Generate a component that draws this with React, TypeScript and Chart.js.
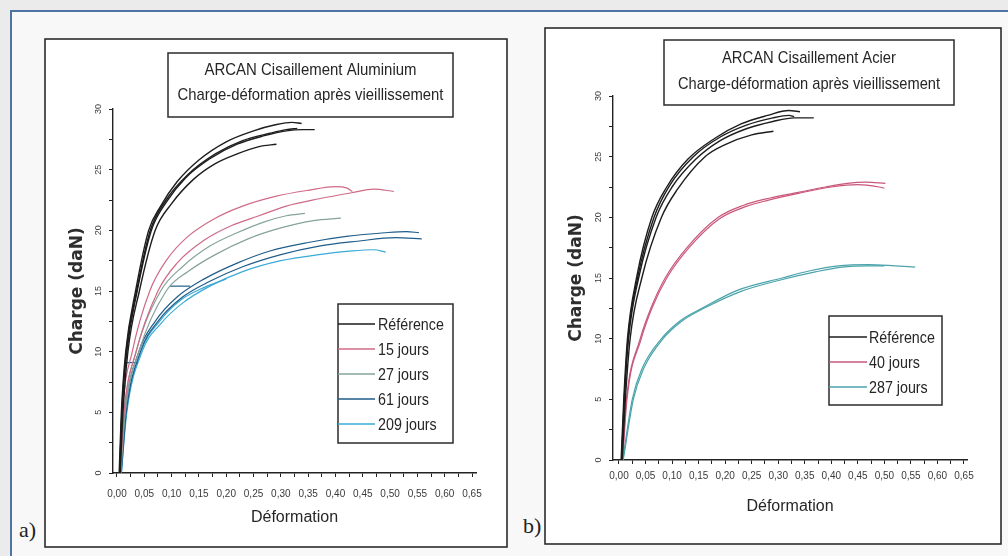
import React, { useEffect, useRef } from 'react';
import { Chart, registerables } from 'chart.js';

Chart.register(...registerables);

type Pt = [number, number];

// ---------- Panel a : ARCAN Cisaillement Aluminium ----------
const A_REF_1: Pt[] = [[0.004, 0], [0.008, 5], [0.016, 10], [0.034, 15], [0.058, 20], [0.08, 22], [0.11, 24], [0.15, 25.8], [0.2, 27.3], [0.25, 28.2], [0.29, 28.7], [0.32, 28.9], [0.338, 28.8]];
const A_REF_2: Pt[] = [[0.005, 0], [0.009, 5], [0.018, 10], [0.037, 15], [0.063, 20], [0.09, 22.3], [0.125, 24.3], [0.17, 25.9], [0.22, 27.1], [0.27, 27.8], [0.31, 28.2], [0.34, 28.3], [0.362, 28.3]];
const A_REF_3: Pt[] = [[0.006, 0], [0.011, 5], [0.02, 10], [0.041, 15], [0.07, 20], [0.1, 22.2], [0.14, 24.2], [0.18, 25.5], [0.22, 26.3], [0.26, 26.9], [0.292, 27.1]];
const A_REF_4: Pt[] = [[0.005, 0], [0.009, 5], [0.017, 10], [0.036, 15], [0.061, 20], [0.09, 22.5], [0.13, 24.6], [0.18, 26.3], [0.23, 27.4], [0.28, 28], [0.31, 28.3], [0.33, 28.4]];

const A_15_1: Pt[] = [[0.005, 0], [0.01, 5], [0.028, 10], [0.06, 15], [0.09, 17.5], [0.13, 19.5], [0.18, 21], [0.23, 22], [0.29, 22.8], [0.35, 23.3], [0.4, 23.6], [0.42, 23.5], [0.431, 23.2]];
const A_15_2: Pt[] = [[0.006, 0], [0.013, 5], [0.035, 10], [0.075, 15], [0.11, 17.3], [0.16, 19.2], [0.21, 20.4], [0.26, 21.2], [0.31, 22], [0.37, 22.6], [0.43, 23.1], [0.47, 23.4], [0.507, 23.2]];

const A_27_1: Pt[] = [[0.006, 0], [0.013, 5], [0.035, 10], [0.08, 15], [0.12, 17], [0.17, 18.7], [0.22, 19.8], [0.27, 20.7], [0.31, 21.2], [0.344, 21.4]];
const A_27_2: Pt[] = [[0.007, 0], [0.015, 5], [0.04, 10], [0.09, 15], [0.13, 16.6], [0.18, 18], [0.24, 19.3], [0.3, 20.2], [0.36, 20.8], [0.41, 21]];

const A_61_1: Pt[] = [[0.007, 0], [0.015, 5], [0.04, 10], [0.07, 12.5], [0.11, 14.5], [0.16, 16], [0.22, 17.3], [0.28, 18.3], [0.35, 19], [0.42, 19.5], [0.49, 19.8], [0.53, 19.9], [0.553, 19.8]];
const A_61_2: Pt[] = [[0.008, 0], [0.017, 5], [0.043, 10], [0.075, 12.5], [0.12, 14.5], [0.17, 15.8], [0.23, 17], [0.3, 18], [0.37, 18.7], [0.44, 19.1], [0.51, 19.4], [0.558, 19.3]];
const A_61_3: Pt[] = [[0.097, 15.4], [0.134, 15.4]];
const A_61_4: Pt[] = [[0.018, 9.1], [0.038, 9.1]];

const A_209_1: Pt[] = [[0.008, 0], [0.018, 5], [0.046, 10], [0.08, 12.3], [0.12, 14], [0.17, 15.4], [0.23, 16.6], [0.3, 17.5], [0.37, 18], [0.43, 18.3], [0.47, 18.4], [0.492, 18.2]];
const A_209_2: Pt[] = [[0.007, 0], [0.017, 5], [0.044, 10], [0.078, 12.5], [0.115, 14.2], [0.16, 15.3], [0.2, 16]];

const A_LABELS = ['Référence', '15 jours', '27 jours', '61 jours', '209 jours'];
const A_CURVES: Pt[][][] = [
  [A_REF_1, A_REF_2, A_REF_3, A_REF_4],
  [A_15_1, A_15_2],
  [A_27_1, A_27_2],
  [A_61_1, A_61_2, A_61_3, A_61_4],
  [A_209_1, A_209_2],
];
const A_COLORS = ['#1d1d1d', '#cf6b86', '#86a39b', '#1f5d8a', '#3aaad6'];

// ---------- Panel b : ARCAN Cisaillement Acier ----------
const B_REF_1: Pt[] = [[0.004, 0], [0.009, 5], [0.016, 10], [0.033, 15], [0.062, 20], [0.09, 22.5], [0.13, 24.8], [0.18, 26.5], [0.23, 27.7], [0.28, 28.4], [0.32, 28.8], [0.341, 28.7]];
const B_REF_2: Pt[] = [[0.005, 0], [0.01, 5], [0.018, 10], [0.037, 15], [0.07, 20], [0.1, 22.5], [0.145, 24.8], [0.19, 26.3], [0.24, 27.3], [0.29, 27.9], [0.33, 28.2], [0.367, 28.2]];
const B_REF_3: Pt[] = [[0.006, 0], [0.012, 5], [0.021, 10], [0.043, 15], [0.08, 20], [0.11, 22.3], [0.162, 25], [0.2, 26], [0.25, 26.8], [0.291, 27.1]];
const B_REF_4: Pt[] = [[0.005, 0], [0.01, 5], [0.017, 10], [0.035, 15], [0.066, 20], [0.095, 22.6], [0.14, 25], [0.19, 26.6], [0.24, 27.6], [0.29, 28.2], [0.32, 28.4], [0.33, 28.3]];

const B_40_1: Pt[] = [[0.006, 0], [0.014, 5], [0.04, 10], [0.06, 12.5], [0.087, 15], [0.128, 17.5], [0.187, 20], [0.235, 21], [0.275, 21.5], [0.33, 22], [0.389, 22.5], [0.43, 22.8], [0.465, 22.9], [0.502, 22.8]];
const B_40_2: Pt[] = [[0.007, 0], [0.015, 5], [0.042, 10], [0.062, 12.5], [0.09, 15], [0.132, 17.5], [0.19, 19.9], [0.24, 20.9], [0.28, 21.4], [0.34, 22], [0.4, 22.5], [0.45, 22.7], [0.49, 22.5], [0.5, 22.4]];

const B_287_1: Pt[] = [[0.007, 0], [0.025, 5], [0.043, 7.5], [0.08, 10], [0.116, 11.5], [0.156, 12.5], [0.224, 14], [0.307, 15], [0.36, 15.6], [0.413, 16], [0.47, 16.1], [0.52, 16], [0.558, 15.9]];
const B_287_2: Pt[] = [[0.008, 0], [0.027, 5], [0.046, 7.5], [0.083, 10], [0.12, 11.5], [0.16, 12.5], [0.23, 13.9], [0.31, 14.9], [0.37, 15.5], [0.42, 15.9], [0.47, 16], [0.5, 16]];

const B_LABELS = ['Référence', '40 jours', '287 jours'];
const B_CURVES: Pt[][][] = [
  [B_REF_1, B_REF_2, B_REF_3, B_REF_4],
  [B_40_1, B_40_2],
  [B_287_1, B_287_2],
];
const B_COLORS = ['#1d1d1d', '#c9577a', '#4aa3aa'];

// ---------- Axes ----------
const X_TICK_VALUES = [0, 0.025, 0.05, 0.075, 0.1, 0.125, 0.15, 0.175, 0.2, 0.225, 0.25, 0.275, 0.3, 0.325, 0.35, 0.375, 0.4, 0.425, 0.45, 0.475, 0.5, 0.525, 0.55, 0.575, 0.6, 0.625, 0.65];
const X_TICK_LABELS = ['0,00', '', '0,05', '', '0,10', '', '0,15', '', '0,20', '', '0,25', '', '0,30', '', '0,35', '', '0,40', '', '0,45', '', '0,50', '', '0,55', '', '0,60', '', '0,65'];
const Y_TICK_VALUES = [0, 2.5, 5, 7.5, 10, 12.5, 15, 17.5, 20, 22.5, 25, 27.5, 30];
const Y_TICK_LABELS = ['0', '', '5', '', '10', '', '15', '', '20', '', '25', '', '30'];

const X_TITLE = 'Déformation';
const Y_TITLE = 'Charge (daN)';

const A_TITLE = ['ARCAN Cisaillement Aluminium', 'Charge-déformation après vieillissement'];
const B_TITLE = ['ARCAN Cisaillement Acier', 'Charge-déformation après vieillissement'];

const SANS = "'Liberation Sans', Arial, sans-serif";
const INK = '#262626';

// layout of each panel (absolute page pixels)
const PANEL_A = {
  left: 44, top: 38, width: 464, height: 510,
  xMin: -0.0073, xMax: 0.6573,
  pad: { left: 19, right: 32, top: 71, bottom: 17 },
  yWidth: 50, xHeight: 58, xTickPad: 11,
  titleBox: [168, 53, 453, 117], titleY: [70, 95], titleW: [212, 266], title: A_TITLE,
  legendBox: [338, 304, 453, 443], legendY0: 324, legendStep: 25, legendLine: [338, 375], legendTextX: 378,
  labels: A_LABELS, curves: A_CURVES, colors: A_COLORS,
};
const PANEL_B = {
  left: 544, top: 27, width: 458, height: 518,
  xMin: -0.0113, xMax: 0.6557,
  pad: { left: 18, right: 35, top: 69, bottom: 25 },
  yWidth: 51, xHeight: 60, xTickPad: 6,
  titleBox: [664, 40, 954, 105], titleY: [58, 84], titleW: [174, 262], title: B_TITLE,
  legendBox: [829, 316, 942, 405], legendY0: 337, legendStep: 25, legendLine: [829, 867], legendTextX: 869,
  labels: B_LABELS, curves: B_CURVES, colors: B_COLORS,
};

const LEGEND_SQUEEZE = 0.84;

function squeezedText(ctx: CanvasRenderingContext2D, text: string, x: number, y: number, k: number, align: CanvasTextAlign) {
  ctx.save();
  ctx.translate(x, y);
  ctx.scale(k, 1);
  ctx.textAlign = align;
  ctx.fillText(text, 0, 0);
  ctx.restore();
}

const decorPlugin = {
  id: 'decor',
  beforeDraw(chart: any) {
    const { ctx, width, height } = chart;
    ctx.save();
    ctx.fillStyle = '#ffffff';
    ctx.fillRect(0, 0, width, height);
    ctx.strokeStyle = '#2b2b2b';
    ctx.lineWidth = 1.6;
    ctx.strokeRect(1, 1, width - 2, height - 2);
    ctx.restore();
  },
  afterDraw(chart: any, _args: any, o: any) {
    const { ctx } = chart;
    const p = o.panel;
    const ox = p.left;
    const oy = p.top;
    ctx.save();
    // title box
    const [tx0, ty0, tx1, ty1] = p.titleBox;
    ctx.fillStyle = '#ffffff';
    ctx.fillRect(tx0 - ox, ty0 - oy, tx1 - tx0, ty1 - ty0);
    ctx.strokeStyle = '#2b2b2b';
    ctx.lineWidth = 1.5;
    ctx.strokeRect(tx0 - ox, ty0 - oy, tx1 - tx0, ty1 - ty0);
    ctx.fillStyle = INK;
    ctx.font = `17px ${SANS}`;
    ctx.textBaseline = 'middle';
    p.title.forEach((t: string, i: number) => {
      const k = p.titleW[i] / ctx.measureText(t).width;
      squeezedText(ctx, t, (tx0 + tx1) / 2 - ox, p.titleY[i] - oy, k, 'center');
    });
    // legend box
    const [lx0, ly0, lx1, ly1] = p.legendBox;
    ctx.fillStyle = '#ffffff';
    ctx.fillRect(lx0 - ox, ly0 - oy, lx1 - lx0, ly1 - ly0);
    ctx.strokeRect(lx0 - ox, ly0 - oy, lx1 - lx0, ly1 - ly0);
    ctx.font = `17px ${SANS}`;
    p.labels.forEach((lab: string, i: number) => {
      const y = p.legendY0 + i * p.legendStep - oy;
      ctx.strokeStyle = p.colors[i];
      ctx.lineWidth = 1.3;
      ctx.beginPath();
      ctx.moveTo(p.legendLine[0] - ox, y);
      ctx.lineTo(p.legendLine[1] - ox, y);
      ctx.stroke();
      ctx.fillStyle = INK;
      squeezedText(ctx, lab, p.legendTextX - ox, y + 1, LEGEND_SQUEEZE, 'left');
    });
    ctx.restore();
  },
};

function buildConfig(p: any): any {
  const datasets: any[] = [];
  p.curves.forEach((group: Pt[][], gi: number) => {
    group.forEach((curve: Pt[]) => {
      datasets.push({
        label: p.labels[gi],
        data: curve.map(([x, y]) => ({ x, y })),
        showLine: true,
        borderColor: p.colors[gi],
        borderWidth: gi === 0 ? 1.4 : 1.2,
        pointRadius: 0,
        fill: false,
        cubicInterpolationMode: 'monotone',
      });
    });
  });
  return {
    type: 'scatter',
    data: { datasets },
    plugins: [decorPlugin],
    options: {
      responsive: false,
      animation: false,
      layout: { padding: p.pad },
      plugins: {
        legend: { display: false },
        tooltip: { enabled: false },
        decor: { panel: p },
      },
      scales: {
        x: {
          type: 'linear',
          min: p.xMin,
          max: p.xMax,
          afterBuildTicks: (s: any) => { s.ticks = X_TICK_VALUES.map((v) => ({ value: v })); },
          afterFit: (s: any) => { s.height = p.xHeight; },
          ticks: {
            autoSkip: false,
            minRotation: 0,
            maxRotation: 0,
            padding: p.xTickPad,
            color: '#3a3a3a',
            font: { family: SANS, size: 10 },
            callback: (_v: any, i: number) => X_TICK_LABELS[i],
          },
          grid: { drawOnChartArea: false, drawTicks: true, tickLength: 4, color: '#222' },
          border: { display: true, color: '#222', width: 1.4 },
          title: { display: true, text: X_TITLE, color: INK, font: { family: SANS, size: 16 }, padding: { top: 4, bottom: 4 } },
        },
        y: {
          type: 'linear',
          min: 0,
          max: 30,
          afterBuildTicks: (s: any) => { s.ticks = Y_TICK_VALUES.map((v) => ({ value: v })); },
          afterFit: (s: any) => { s.width = p.yWidth; },
          ticks: {
            autoSkip: false,
            minRotation: 90,
            maxRotation: 90,
            crossAlign: 'center',
            padding: 5,
            color: '#3a3a3a',
            font: { family: SANS, size: 9 },
            callback: (_v: any, i: number) => Y_TICK_LABELS[i],
          },
          grid: { drawOnChartArea: false, drawTicks: true, tickLength: 4, color: '#222' },
          border: { display: true, color: '#222', width: 1.4 },
          title: { display: true, text: Y_TITLE, color: '#2e2e2e', font: { family: "'DejaVu Sans', sans-serif", size: 17, weight: 'bold' }, padding: { top: 4, bottom: 4 } },
        },
      },
    },
  };
}

function Panel({ p }: { p: any }) {
  const ref = useRef<HTMLCanvasElement>(null);
  useEffect(() => {
    if (!ref.current) return;
    const chart = new Chart(ref.current, buildConfig(p));
    return () => chart.destroy();
  }, [p]);
  return (
    <canvas
      ref={ref}
      width={p.width}
      height={p.height}
      style={{ position: 'absolute', left: p.left, top: p.top, width: p.width, height: p.height }}
    />
  );
}

export default function App() {
  return (
    <div style={{ position: 'absolute', left: 0, top: 0, width: 1008, height: 556, background: '#ebebeb', overflow: 'hidden' }}>
      <div style={{ position: 'absolute', left: 10, top: 10, width: 998, height: 546, borderTop: '2px solid #4f74a3', borderLeft: '2px solid #4f74a3', background: '#f8f8f8' }} />
      <Panel p={PANEL_A} />
      <Panel p={PANEL_B} />
      <div style={{ position: 'absolute', left: 19, top: 517, font: "22px 'Liberation Serif', serif", color: '#222' }}>a)</div>
      <div style={{ position: 'absolute', left: 523, top: 513, font: "22px 'Liberation Serif', serif", color: '#222' }}>b)</div>
    </div>
  );
}
